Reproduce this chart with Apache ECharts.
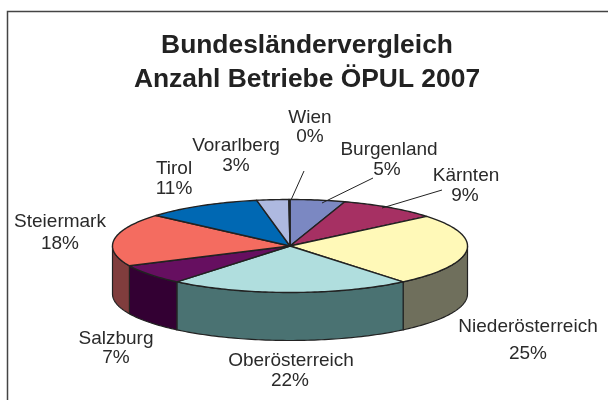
<!DOCTYPE html>
<html><head><meta charset="utf-8">
<style>html,body{margin:0;padding:0;background:#fff}#c{width:608px;height:400px}</style>
<script src="https://cdn.jsdelivr.net/npm/echarts@6/dist/echarts.min.js"></script>
</head><body><div id="c"></div>
<script>
const titleLines = ['Bundesländervergleich', 'Anzahl Betriebe ÖPUL 2007'];
const categories = ['Burgenland','Kärnten','Niederösterreich','Oberösterreich','Salzburg','Steiermark','Tirol','Vorarlberg','Wien'];
const shares = [5, 9, 25, 22, 7, 18.4, 10.6, 2.9, 0.1];
const topColors = ['#7B88C2','#A63063','#FFF9B8','#B0DEDE','#660F60','#F46C60','#0068B3','#AEB9E0','#C8C8E8'];
const wallColors = ['#3E4461','#531832','#6F6F5C','#4A7272','#330033','#803D3D','#003459','#575C70','#646474'];

// projection of the tilted pie
const CX = 290, CY = 246, RX = 177.5, RY = 46.5, DEPTH = 48;
// label placement, by category: name centre, percent centre, optional leader
const place = {
  'Wien':            {n:[310,118], p:[310,137], l:[[304,171],[291,200]]},
  'Burgenland':      {n:[389,150], p:[387,170], l:[[373,178],[322,203]]},
  'Kärnten':         {n:[466,176], p:[465,196], l:[[442,190],[382,208]]},
  'Tirol':           {n:[174,169], p:[174,189]},
  'Vorarlberg':      {n:[236,146], p:[236,166]},
  'Steiermark':      {n:[60,222],  p:[60,244]},
  'Salzburg':        {n:[116,339], p:[116,358]},
  'Niederösterreich':{n:[528,327], p:[528,354]},
  'Oberösterreich':  {n:[291,361], p:[290,381]}
};

const total = shares.reduce((a, b) => a + b, 0);
const toAngle = v => v / total * 2 * Math.PI;
let acc = 0;
const slices = shares.map((v, i) => {
  const s = { name: categories[i], value: [acc, acc + v, v, i] };
  acc += v;
  return s;
});
const pt = (a, dy) => [CX + RX * Math.sin(a), CY - RY * Math.cos(a) + (dy || 0)];
const arc = (a0, a1, dy) => {
  const n = Math.max(2, Math.ceil((a1 - a0) / 0.02)), out = [];
  for (let k = 0; k <= n; k++) out.push(pt(a0 + (a1 - a0) * k / n, dy));
  return out;
};
const EDGE = '#222222';

const renderWall = (p, api) => {
  const a0 = Math.max(toAngle(api.value(0)), Math.PI / 2);
  const a1 = Math.min(toAngle(api.value(1)), Math.PI * 1.5);
  if (a1 <= a0) return { type: 'group', children: [] };
  const pts = arc(a0, a1, 0).concat(arc(a0, a1, DEPTH).reverse());
  return { type: 'polygon', shape: { points: pts },
    style: { fill: wallColors[api.value(3)], stroke: EDGE, lineWidth: 1.2, lineJoin: 'round' } };
};
const renderTop = (p, api) => {
  const a0 = toAngle(api.value(0)), a1 = toAngle(api.value(1));
  const pts = [[CX, CY]].concat(arc(a0, a1, 0));
  return { type: 'polygon', shape: { points: pts },
    style: { fill: topColors[api.value(3)], stroke: EDGE, lineWidth: 1.4, lineJoin: 'round' } };
};
const FONT = '19px "Liberation Sans", Arial, sans-serif';
const txt = (t, c) => ({ type: 'text', x: c[0], y: c[1],
  style: { text: t, font: FONT, fill: '#2a2a2a', textAlign: 'center', textVerticalAlign: 'middle' } });
const renderLabel = (p, api) => {
  const name = categories[api.value(3)], q = place[name], kids = [];
  if (q.l) kids.push({ type: 'line',
    shape: { x1: q.l[0][0], y1: q.l[0][1], x2: q.l[1][0], y2: q.l[1][1] },
    style: { stroke: EDGE, lineWidth: 1 } });
  kids.push(txt(name, q.n), txt(Math.round(api.value(2)) + '%', q.p));
  return { type: 'group', children: kids };
};

const chart = echarts.init(document.getElementById('c'), null, { renderer: 'canvas' });
chart.setOption({
  animation: false,
  backgroundColor: '#fff',
  title: { text: titleLines.join('\n'), left: 302, top: 24, textAlign: 'center',
    textStyle: { fontFamily: '"Liberation Sans", Arial, sans-serif', fontWeight: 'bold', fontSize: 26.4, lineHeight: 34, color: '#222' } },
  graphic: [{ type: 'rect', silent: true, shape: { x: 7.5, y: 11.5, width: 800, height: 600 },
    style: { fill: 'none', stroke: '#444', lineWidth: 1.5 } }],
  series: [
    { type: 'custom', coordinateSystem: 'none', renderItem: renderWall, data: slices, silent: true, z: 1 },
    { type: 'custom', coordinateSystem: 'none', renderItem: renderTop, data: slices, silent: true, z: 2 },
    { type: 'custom', coordinateSystem: 'none', renderItem: renderLabel, data: slices, silent: true, z: 3 }
  ]
});
</script></body></html>
